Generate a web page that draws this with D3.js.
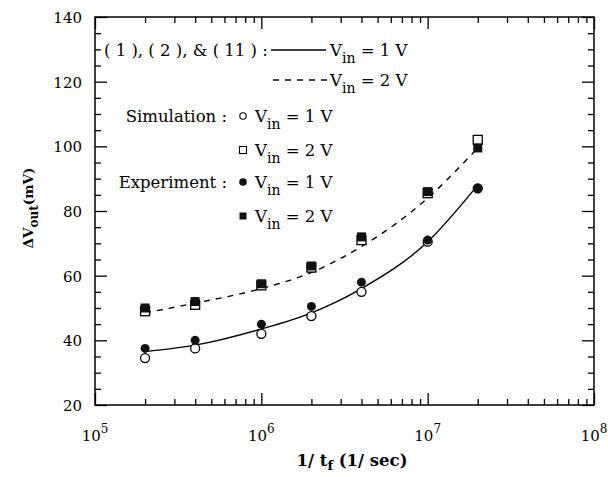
<!DOCTYPE html>
<html>
<head>
<meta charset="utf-8">
<script src="https://cdn.jsdelivr.net/npm/d3@7"></script>
<style>
  body { margin: 0; background: #fff; }
  svg { font-family: "DejaVu Serif", serif; }
</style>
</head>
<body>
<div class="chart"></div>
<script>
// 1/t_f values (1/sec)
const freq = [2e5, 4e5, 1e6, 2e6, 4e6, 1e7, 2e7];
// model curves, eqs (1), (2) & (11)
const model1V = [36.5, 38.5, 43.5, 48.5, 56, 70.5, 88];
const model2V = [48.5, 51.5, 56, 61, 69, 84, 99.5];
// simulation points
const sim1V = [34.5, 37.5, 42, 47.5, 55, 70.5, 87];
const sim2V = [49, 51, 57, 62.5, 71, 85.5, 102];
// experiment points
const exp1V = [37.5, 40, 45, 50.5, 58, 71, 87];
const exp2V = [50, 52, 57.5, 63, 72, 86, 99.5];

const xDecades = [1e5, 1e6, 1e7, 1e8];
const xExponents = ["5", "6", "7", "8"];
const yMajor = [20, 40, 60, 80, 100, 120, 140];

const margin = {top: 17, right: 14, bottom: 72, left: 95},
  width = 608 - margin.left - margin.right,
  height = 477 - margin.top - margin.bottom;

const svg = d3.select(".chart")
  .append("svg")
    .attr("width", 608)
    .attr("height", 477)
  .append("g")
    .attr("transform", "translate(" + margin.left + "," + margin.top + ")");

const x = d3.scaleLog().domain([1e5, 1e8]).range([0, width]);
const y = d3.scaleLinear().domain([20, 140]).range([height, 0]);

// minor ticks: 2..9 per decade on x, every 5 on y
const xMinor = [];
xDecades.slice(0, 3).forEach(d => { for (let k = 2; k <= 9; k++) xMinor.push(d * k); });
const yMinor = d3.range(20, 141, 5).filter(v => v % 20 != 0);

function tickAxis(axisFn, vals, len, tx) {
  const g = svg.append("g")
    .attr("transform", tx)
    .call(axisFn.tickValues(vals).tickSize(-len).tickFormat(""));
  g.select(".domain").remove();
  g.selectAll("line").attr("stroke", "#000").attr("stroke-width", 1.3);
  return g;
}

tickAxis(d3.axisBottom(x), xDecades, 12, "translate(0," + height + ")");
tickAxis(d3.axisBottom(x), xMinor, 6, "translate(0," + height + ")");
tickAxis(d3.axisTop(x), xDecades, 12, "translate(0,0)");
tickAxis(d3.axisTop(x), xMinor, 6, "translate(0,0)");
tickAxis(d3.axisLeft(y), yMajor, 12, "translate(0,0)");
tickAxis(d3.axisLeft(y), yMinor, 6, "translate(0,0)");
tickAxis(d3.axisRight(y), yMajor, 12, "translate(" + width + ",0)");
tickAxis(d3.axisRight(y), yMinor, 6, "translate(" + width + ",0)");

// y tick labels
svg.append("g")
  .selectAll("text")
  .data(yMajor)
  .join("text")
    .attr("x", -13)
    .attr("y", d => y(d))
    .attr("dy", "0.4em")
    .attr("text-anchor", "end")
    .style("font-size", "15px")
    .text(d => d);

// x tick labels 10^n
const xl = svg.append("g")
  .selectAll("text")
  .data(xDecades)
  .join("text")
    .attr("x", d => x(d))
    .attr("y", height + 36)
    .attr("text-anchor", "middle")
    .style("font-size", "15px");
xl.append("tspan").text("10");
xl.append("tspan").attr("dy", -8).style("font-size", "12px").text((d, i) => xExponents[i]);

// frame
svg.append("rect")
  .attr("width", width)
  .attr("height", height)
  .attr("fill", "none")
  .attr("stroke", "#000")
  .attr("stroke-width", 1.5);

// curves
const line = d3.line()
  .x((d, i) => x(freq[i]))
  .y(d => y(d))
  .curve(d3.curveMonotoneX);

svg.append("path")
  .datum(model1V)
  .attr("d", line)
  .attr("fill", "none")
  .attr("stroke", "#000")
  .attr("stroke-width", 1.4);

svg.append("path")
  .datum(model2V)
  .attr("d", line)
  .attr("fill", "none")
  .attr("stroke", "#000")
  .attr("stroke-width", 1.4)
  .attr("stroke-dasharray", "6,6");

const r = 4.5, sq = 9;

// simulation (open)
svg.append("g")
  .selectAll("rect")
  .data(sim2V)
  .join("rect")
    .attr("x", (d, i) => x(freq[i]) - sq / 2)
    .attr("y", d => y(d) - sq / 2)
    .attr("width", sq)
    .attr("height", sq)
    .attr("fill", "#fff")
    .attr("stroke", "#000")
    .attr("stroke-width", 1.3);

svg.append("g")
  .selectAll("circle")
  .data(sim1V)
  .join("circle")
    .attr("cx", (d, i) => x(freq[i]))
    .attr("cy", d => y(d))
    .attr("r", r)
    .attr("fill", "#fff")
    .attr("stroke", "#000")
    .attr("stroke-width", 1.3);

// experiment (filled)
svg.append("g")
  .selectAll("rect")
  .data(exp2V)
  .join("rect")
    .attr("x", (d, i) => x(freq[i]) - sq / 2)
    .attr("y", d => y(d) - sq / 2)
    .attr("width", sq)
    .attr("height", sq)
    .attr("fill", "#111");

svg.append("g")
  .selectAll("circle")
  .data(exp1V)
  .join("circle")
    .attr("cx", (d, i) => x(freq[i]))
    .attr("cy", d => y(d))
    .attr("r", r)
    .attr("fill", "#111");

// axis titles
const xt = svg.append("text")
  .attr("x", 352 - margin.left)
  .attr("y", 466 - margin.top)
  .attr("text-anchor", "middle")
  .style("font-size", "16.5px")
  .style("font-weight", "bold");
xt.append("tspan").text("1/ t");
xt.append("tspan").attr("dy", 4).style("font-size", "13px").text("f");
xt.append("tspan").attr("dy", -4).text(" (1/ sec)");

const yt = svg.append("text")
  .attr("transform", "translate(" + (33 - margin.left) + "," + (208 - margin.top) + ") rotate(-90)")
  .attr("text-anchor", "middle")
  .style("font-size", "13.5px")
  .style("font-weight", "bold");
yt.append("tspan").text("\u0394V");
yt.append("tspan").attr("dy", 5).style("font-size", "12px").text("out");
yt.append("tspan").attr("dy", -5).text("(mV)");

// legend (page coordinates)
const leg = d3.select(".chart svg").append("g").style("font-size", "16.5px");

function vinText(xPos, yPos, val) {
  const t = leg.append("text").attr("x", xPos).attr("y", yPos);
  t.append("tspan").text("V");
  t.append("tspan").attr("dy", 7).style("font-size", "14px").text("in");
  t.append("tspan").attr("dy", -7).text(" = " + val + " V");
}

leg.append("text").attr("x", 104).attr("y", 56).text("( 1 ), ( 2 ), & ( 11 ) :");
leg.append("line").attr("x1", 271).attr("x2", 326).attr("y1", 50).attr("y2", 50)
  .attr("stroke", "#000").attr("stroke-width", 1.3);
vinText(330, 56, 1);

leg.append("line").attr("x1", 273).attr("x2", 327).attr("y1", 80).attr("y2", 80)
  .attr("stroke", "#000").attr("stroke-width", 1.3).attr("stroke-dasharray", "6,6");
vinText(330, 86, 2);

leg.append("text").attr("x", 227).attr("y", 122).attr("text-anchor", "end").text("Simulation :");
leg.append("circle").attr("cx", 243).attr("cy", 116).attr("r", 3.2)
  .attr("fill", "#fff").attr("stroke", "#000").attr("stroke-width", 1.1);
vinText(255, 122, 1);

leg.append("rect").attr("x", 239.5).attr("y", 146.5).attr("width", 7).attr("height", 7)
  .attr("fill", "#fff").attr("stroke", "#000").attr("stroke-width", 1.1);
vinText(255, 156, 2);

leg.append("text").attr("x", 227).attr("y", 188).attr("text-anchor", "end").text("Experiment :");
leg.append("circle").attr("cx", 243).attr("cy", 182).attr("r", 3.8).attr("fill", "#111");
vinText(255, 188, 1);

leg.append("rect").attr("x", 239.5).attr("y", 212.5).attr("width", 7).attr("height", 7).attr("fill", "#111");
vinText(255, 222, 2);
</script>
</body>
</html>
